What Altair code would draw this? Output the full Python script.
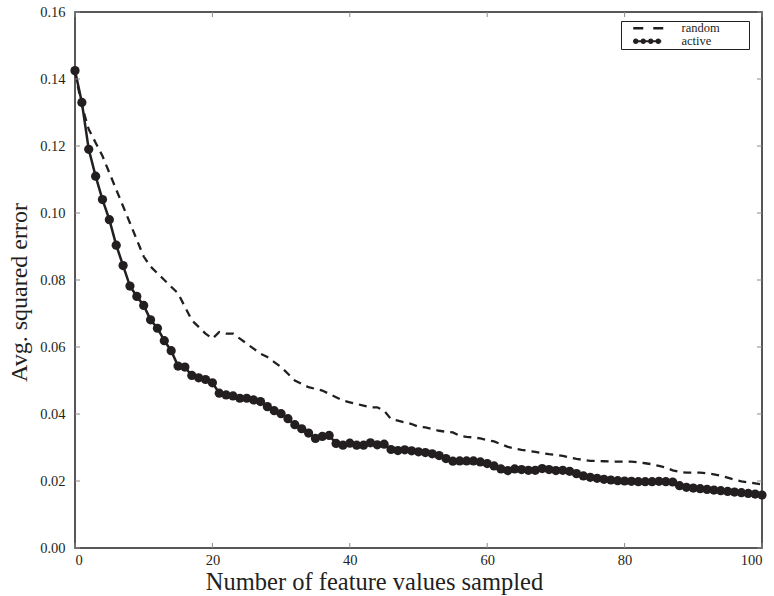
import altair as alt
import pandas as pd

# ---- data ----
x_vals = list(range(0, 101))

random_err = [
    0.142, 0.132, 0.125, 0.121, 0.117, 0.112, 0.107, 0.102, 0.097, 0.092,
    0.087, 0.084, 0.082, 0.080, 0.078, 0.076, 0.072, 0.068, 0.066, 0.064,
    0.0625, 0.0645, 0.064, 0.064, 0.0625, 0.061, 0.0595, 0.058, 0.057, 0.0555,
    0.054, 0.052, 0.050, 0.049, 0.048, 0.0475, 0.047, 0.046, 0.045, 0.044,
    0.0435, 0.043, 0.0425, 0.042, 0.042, 0.041, 0.0385, 0.038, 0.0375, 0.037,
    0.0362, 0.036, 0.0355, 0.035, 0.0347, 0.0345, 0.0335, 0.0332, 0.033, 0.0327,
    0.0322, 0.0318, 0.031, 0.0302, 0.0297, 0.0293, 0.029, 0.0287, 0.0283, 0.028,
    0.0278, 0.0275, 0.027, 0.0266, 0.0263, 0.026, 0.026, 0.0259, 0.0258, 0.0258,
    0.0258, 0.0258, 0.0256, 0.0253, 0.025, 0.0245, 0.024, 0.0232, 0.0227, 0.0225,
    0.0225, 0.0225, 0.0223, 0.022, 0.0216, 0.021, 0.0204, 0.0199, 0.0196, 0.0193,
    0.019,
]

active_err = [
    0.1425, 0.133, 0.119, 0.111, 0.104, 0.098, 0.0904, 0.0843, 0.0782, 0.0751,
    0.0724, 0.0681, 0.0656, 0.0619, 0.0589, 0.0543, 0.054, 0.0515, 0.0508, 0.0503,
    0.0493, 0.0462, 0.0457, 0.0454, 0.0447, 0.0447, 0.0442, 0.0437, 0.0422, 0.041,
    0.0401, 0.0386, 0.0368, 0.0356, 0.0343, 0.0327, 0.0333, 0.0336, 0.0312, 0.0307,
    0.0313, 0.0307, 0.0307, 0.0314, 0.0308, 0.031, 0.0294, 0.0291, 0.0293, 0.029,
    0.0287, 0.0285, 0.0281, 0.0276, 0.0267, 0.0259, 0.026, 0.026, 0.026, 0.0257,
    0.0252, 0.0245, 0.0236, 0.0231, 0.0236, 0.0234, 0.0232, 0.0232, 0.0237, 0.0234,
    0.0231, 0.0232, 0.0229, 0.0222, 0.0215, 0.0211, 0.0208, 0.0205, 0.0203, 0.0201,
    0.020, 0.0199, 0.0198, 0.0198, 0.0198, 0.0199, 0.0198, 0.0197, 0.0186, 0.0181,
    0.0179, 0.0177, 0.0175, 0.0173, 0.0171, 0.0169, 0.0167, 0.0165, 0.0163, 0.0161,
    0.0158,
]

series_names = ["random", "active"]
x_ticks = [0, 20, 40, 60, 80, 100]
y_ticks = [0.00, 0.02, 0.04, 0.06, 0.08, 0.10, 0.12, 0.14, 0.16]

INK = "#231f20"
FONT = "Liberation Serif"
W, H = 687, 536

df = pd.DataFrame({
    "x": x_vals * 2,
    "err": random_err + active_err,
    "series": ["random"] * len(x_vals) + ["active"] * len(x_vals),
})
xt = pd.DataFrame({"v": x_ticks})
yt = pd.DataFrame({"v": y_ticks})

xscale = alt.Scale(domain=[0, 100], nice=False, zero=False)
yscale = alt.Scale(domain=[0, 0.16], nice=False)

x_axis = alt.Axis(
    title="Number of feature values sampled", values=x_ticks, format="d",
    ticks=False, domain=False, grid=False, labelPadding=5,
    labelFont=FONT, labelFontSize=14.5, labelColor=INK,
    titleFont=FONT, titleFontSize=24.5, titleFontWeight="normal", titleColor=INK,
    titleX=299, titleY=41, titleBaseline="alphabetic", titleAnchor="middle")
y_axis = alt.Axis(
    title="Avg. squared error", values=y_ticks, format=".2f",
    ticks=False, domain=False, grid=False, labelPadding=10,
    labelFont=FONT, labelFontSize=14.5, labelColor=INK,
    titleFont=FONT, titleFontSize=24, titleFontWeight="normal", titleColor=INK,
    titleAngle=270, titleX=-49, titleY=280, titleBaseline="alphabetic",
    titleAlign="center")

x_enc = alt.X("x:Q", scale=xscale, axis=x_axis)
y_enc = alt.Y("err:Q", scale=yscale, axis=y_axis)

base = alt.Chart(df)

random_line = base.transform_filter(alt.datum.series == "random").mark_line(
    color=INK, strokeWidth=2.3, strokeDash=[8, 6]).encode(x=x_enc, y=y_enc)

active_line = base.transform_filter(alt.datum.series == "active").mark_line(
    color=INK, strokeWidth=2.5).encode(x=x_enc, y=y_enc)

active_pts = base.transform_filter(alt.datum.series == "active").mark_circle(
    color=INK, size=85, opacity=1).encode(x=x_enc, y=y_enc)

# custom legend symbols built from filled shapes
# (path units are scaled by sqrt(size)/2 = 5px)
dash_path = "M1,-0.26H3V0.26H1Z M5,-0.26H7V0.26H5Z"
r = 0.55
dots = "".join(
    f"M{cx - r:.2f},0a{r},{r} 0 1,1 {2 * r:.2f},0a{r},{r} 0 1,1 {-2 * r:.2f},0Z"
    for cx in [1.5, 3.0, 4.5, 6.0]
)
active_path = "M1,-0.2H6.6V0.2H1Z" + dots

pad_tail = "\u00a0" * 9 + "\u200b"

legend_layer = base.mark_point(
    filled=True, opacity=0, color=INK
).encode(
    x=alt.X("x:Q", scale=xscale, axis=x_axis),
    y=alt.Y("err:Q", scale=yscale, axis=y_axis),
    shape=alt.Shape("series:N",
                    scale=alt.Scale(domain=series_names, range=[dash_path, active_path]),
                    legend=alt.Legend(
                        title=None, orient="none", legendX=546, legendY=9,
                        symbolSize=100, symbolOpacity=1,
                        symbolFillColor=INK,
                        labelFont=FONT, labelFontSize=12.5, labelColor=INK,
                        labelOffset=47, rowPadding=0, padding=1,
                        strokeColor=INK, fillColor="white",
                        labelExpr=f"datum.label + '{pad_tail}'",
                    )),
)

tick_color = "#8a8a8a"
ytick_left = alt.Chart(yt).mark_rule(color=tick_color, strokeWidth=1).encode(
    y=alt.Y("v:Q", scale=yscale, axis=y_axis), x=alt.value(0), x2=alt.value(5))
ytick_right = alt.Chart(yt).mark_rule(color=tick_color, strokeWidth=1).encode(
    y=alt.Y("v:Q", scale=yscale, axis=y_axis), x=alt.value(W - 5), x2=alt.value(W))
xtick_bottom = alt.Chart(xt).mark_rule(color=tick_color, strokeWidth=1).encode(
    x=alt.X("v:Q", scale=xscale, axis=x_axis), y=alt.value(H - 5), y2=alt.value(H))
xtick_top = alt.Chart(xt).mark_rule(color=tick_color, strokeWidth=1).encode(
    x=alt.X("v:Q", scale=xscale, axis=x_axis), y=alt.value(0), y2=alt.value(5))

chart = alt.layer(
    random_line, active_line, active_pts, legend_layer,
    ytick_left, ytick_right, xtick_bottom, xtick_top,
).properties(
    width=W, height=H,
    autosize=alt.AutoSizeParams(type="none"),
    padding={"left": 75, "top": 12, "right": 12, "bottom": 48},
    background="white",
).configure_view(
    stroke=INK, strokeWidth=1.5
)

chart.save("out.html", embed_options={"renderer": "svg", "actions": False})
